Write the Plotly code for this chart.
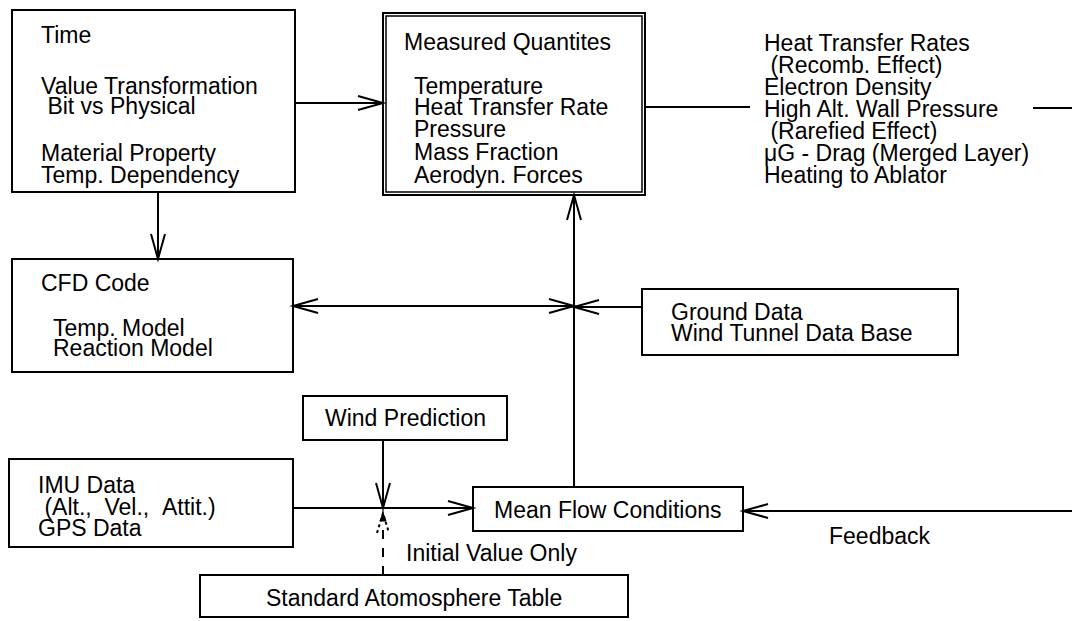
import plotly.graph_objects as go

# ---------------- text content ----------------
time_lines = ["Time", "Value Transformation", " Bit vs Physical", "Material Property", "Temp. Dependency"]
measured_title = "Measured Quantites"
measured_lines = ["Temperature", "Heat Transfer Rate", "Pressure", "Mass Fraction", "Aerodyn. Forces"]
output_lines = ["Heat Transfer Rates", " (Recomb. Effect)", "Electron Density", "High Alt. Wall Pressure",
                " (Rarefied Effect)", "\u03bcG - Drag (Merged Layer)", "Heating to Ablator"]
cfd_lines = ["CFD Code", "Temp. Model", "Reaction Model"]
ground_lines = ["Ground Data", "Wind Tunnel Data Base"]
wind_label = "Wind Prediction"
imu_lines = ["IMU Data", " (Alt.,  Vel.,  Attit.)", "GPS Data"]
mean_label = "Mean Flow Conditions"
std_label = "Standard Atomosphere Table"
initial_label = "Initial Value Only"
feedback_label = "Feedback"

# ---------------- layout geometry (page pixels) ----------------
W, H = 1080, 621
PAGE_MARGIN = 8   # default body margin of the written html page
boxes = {
    "time": (12, 10, 295, 192),
    "measured": (383, 13, 645, 195),
    "cfd": (12, 259, 293, 372),
    "ground": (642, 289, 958, 355),
    "wind": (303, 396, 507, 440),
    "imu": (9, 459, 293, 547),
    "mean": (473, 487, 743, 531),
    "std": (200, 575, 628, 617),
}
FONT = dict(family="Liberation Sans, Arial, sans-serif", size=23, color="black")
LW = 2

shapes = []
annotations = []


def rect(b, w=LW, inset=0):
    x0, y0, x1, y1 = b
    shapes.append(dict(type="rect", xref="x", yref="y", x0=x0 + inset, y0=y0 + inset,
                       x1=x1 - inset, y1=y1 - inset, line=dict(color="black", width=w)))


def line(x0, y0, x1, y1, w=LW, dash="solid", color="black"):
    shapes.append(dict(type="line", xref="x", yref="y", x0=x0, y0=y0, x1=x1, y1=y1,
                       line=dict(color=color, width=w, dash=dash)))


def head(tx, ty, d, L=25, hw=7, dash="solid", fill=False):
    # open V arrowhead with tip at (tx, ty), direction d in {'r','l','u','d'}
    if d == "r":
        p = [(tx - L, ty - hw), (tx, ty), (tx - L, ty + hw)]
    elif d == "l":
        p = [(tx + L, ty - hw), (tx, ty), (tx + L, ty + hw)]
    elif d == "u":
        p = [(tx - hw, ty + L), (tx, ty), (tx + hw, ty + L)]
    else:
        p = [(tx - hw, ty - L), (tx, ty), (tx + hw, ty - L)]
    path = "M {} {} L {} {} L {} {}".format(p[0][0], p[0][1], p[1][0], p[1][1], p[2][0], p[2][1])
    if fill:
        path += " Z"
    shapes.append(dict(type="path", xref="x", yref="y", path=path,
                       fillcolor="black" if fill else None,
                       line=dict(color="black", width=LW if not fill else 1, dash=dash)))


def text(s, x, y, anchor="left"):
    annotations.append(dict(text=s.replace(" ", "&nbsp;") if s.startswith(" ") else s,
                            x=x, y=y, xref="x", yref="y", xanchor=anchor, yanchor="middle",
                            showarrow=False, font=FONT, borderpad=0))


# boxes
for k, b in boxes.items():
    rect(b)
rect(boxes["measured"], w=1.5, inset=3)

# connectors
tb, mb, cb, gb = boxes["time"], boxes["measured"], boxes["cfd"], boxes["ground"]
wb, ib, mfb, sb = boxes["wind"], boxes["imu"], boxes["mean"], boxes["std"]
jx = 574           # vertical trunk to measured quantities
wx = 383           # wind / std atmosphere junction
yflow = 508

line(tb[2], 103, mb[0], 103); head(mb[0], 103, "r")
line(158, tb[3], 158, cb[1]); head(158, cb[1], "d")
line(mb[2], 107, 750, 107)
line(1033, 108, W + 2, 108)
line(cb[2], 306, jx, 306); head(cb[2], 306, "l"); head(jx, 306, "r")
line(gb[0], 307, jx, 307); head(jx, 307, "l")
line(jx, mfb[1], jx, mb[3]); head(jx, mb[3], "u")
line(wx, wb[3], wx, yflow); head(wx, yflow, "d")
line(ib[2], yflow, mfb[0], yflow); head(mfb[0], yflow, "r")
line(wx, sb[1], wx, yflow + 14, dash="dash")
head(wx, yflow + 5, "u", L=8, hw=3, fill=True)
head(wx, yflow + 5, "u", L=20, hw=6, dash="dot")
line(W + 2, 511, mfb[2], 511); head(mfb[2], 511, "l")
line(W - 2, 440, W - 2, 511, w=1.5, dash="dot", color="#aaaaaa")

# texts
for s, y in zip(time_lines, [35, 86, 106, 153, 175]):
    text(s, 40, y)
text(measured_title, 403, 42)
for s, y in zip(measured_lines, [86, 107, 129, 152, 175]):
    text(s, 413, y)
for s, y in zip(output_lines, [43, 65, 87, 109, 131, 153, 175]):
    text(s, 763, y)
for s, x, y in zip(cfd_lines, [40, 52, 52], [283, 328, 348]):
    text(s, x, y)
for s, y in zip(ground_lines, [312, 333]):
    text(s, 670, y)
text(wind_label, (wb[0] + wb[2]) / 2, 418, anchor="center")
for s, y in zip(imu_lines, [485, 507, 528]):
    text(s, 37, y)
text(mean_label, (mfb[0] + mfb[2]) / 2, 510, anchor="center")
text(initial_label, 405, 553)
text(std_label, (sb[0] + sb[2]) / 2, 598, anchor="center")
text(feedback_label, 880, 536, anchor="center")

fig = go.Figure()
fig.update_layout(
    width=W, height=H, margin=dict(l=0, r=0, t=0, b=0),
    paper_bgcolor="white", plot_bgcolor="white",
    xaxis=dict(range=[PAGE_MARGIN, W + PAGE_MARGIN], visible=False, fixedrange=True),
    yaxis=dict(range=[H + PAGE_MARGIN, PAGE_MARGIN], visible=False, fixedrange=True),
    shapes=shapes, annotations=annotations, showlegend=False,
)
fig.write_html("out.html")
